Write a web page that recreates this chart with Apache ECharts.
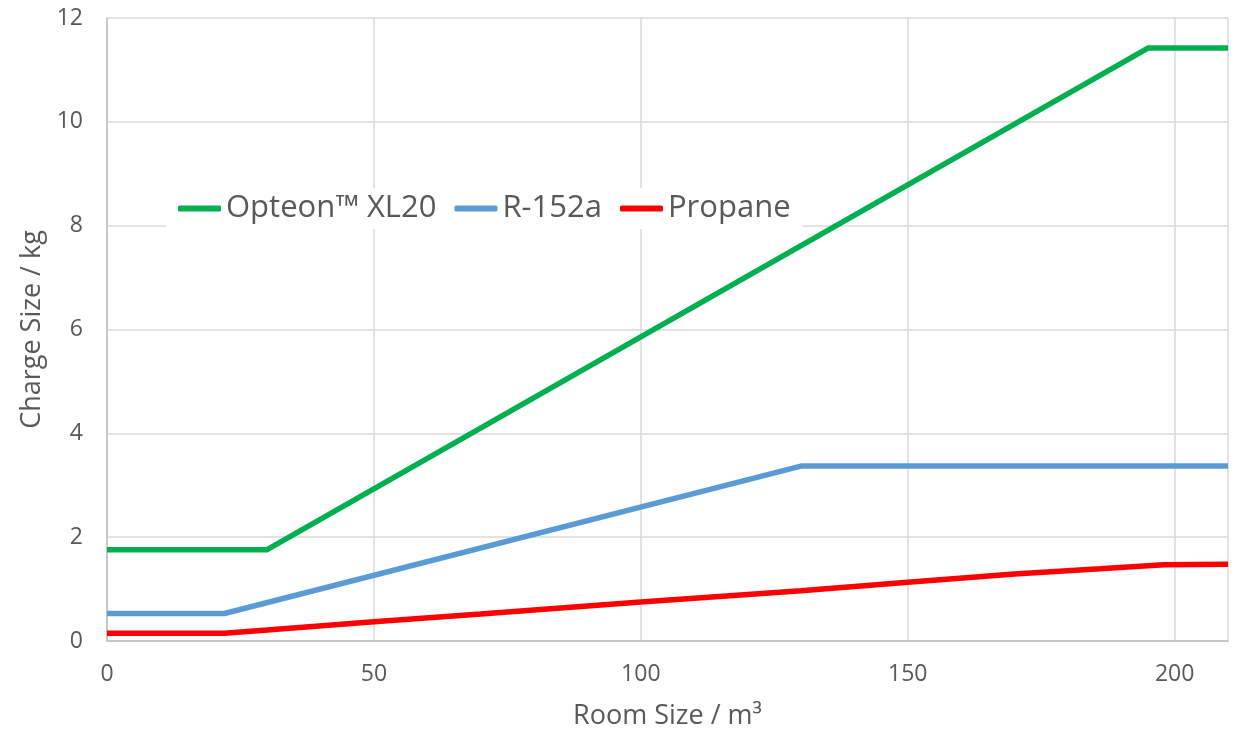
<!DOCTYPE html>
<html>
<head>
<meta charset="utf-8">
<script src="https://cdn.jsdelivr.net/npm/echarts@6/dist/echarts.min.js"></script>
<style>
html,body{margin:0;padding:0;background:#fff;}
#chart{width:1235px;height:735px;}
</style>
</head>
<body>
<div id="chart"></div>
<script>
const seriesNames = ['Opteon™ XL20', 'R-152a', 'Propane'];
const seriesColors = ['#00b050', '#5b9bd5', '#ff0000'];

const xl20Room = [0, 30, 195, 210];
const xl20Charge = [1.76, 1.76, 11.42, 11.42];

const r152aRoom = [0, 22, 130, 210];
const r152aCharge = [0.53, 0.53, 3.37, 3.37];

const propaneRoom = [0, 22, 30, 50, 70, 100, 130, 150, 170, 186, 198, 210];
const propaneCharge = [0.15, 0.15, 0.21, 0.37, 0.52, 0.75, 0.97, 1.13, 1.29, 1.39, 1.47, 1.48];

const xTicks = [0, 50, 100, 150, 200];
const yTicks = [0, 2, 4, 6, 8, 10, 12];

function pairs(xs, ys) { return xs.map((x, i) => [x, ys[i]]); }

const chart = echarts.init(document.getElementById('chart'));
const fontFam = '"Open Sans", "Liberation Sans", sans-serif';
const textColor = '#595959';

chart.setOption({
  animation: false,
  grid: { left: 107, top: 18, right: 7, bottom: 92 },
  legend: {
    data: seriesNames,
    left: 166, top: 188,
    backgroundColor: '#ffffff',
    padding: [5, 12, 5, 12],
    itemWidth: 43, itemHeight: 6,
    itemGap: 18,
    icon: 'roundRect',
    textStyle: { fontFamily: fontFam, fontSize: 31, color: textColor }
  },
  xAxis: {
    type: 'value', min: 0, max: 210, interval: 50,
    name: 'Room Size / m³', nameLocation: 'middle', nameGap: 62,
    nameTextStyle: { fontFamily: fontFam, fontSize: 27, color: textColor },
    axisLine: { show: true, lineStyle: { color: '#bfbfbf', width: 1.5 } },
    axisTick: { show: false },
    axisLabel: { fontFamily: fontFam, fontSize: 23, color: textColor, margin: 22,
      formatter: v => xTicks.includes(v) ? String(v) : '' },
    splitLine: { show: true, lineStyle: { color: '#d9d9d9', width: 1.5 } }
  },
  yAxis: {
    type: 'value', min: 0, max: 12, interval: 2,
    name: 'Charge Size / kg', nameLocation: 'middle', nameGap: 61,
    nameTextStyle: { fontFamily: fontFam, fontSize: 27, color: textColor },
    axisLine: { show: true, lineStyle: { color: '#bfbfbf', width: 1.5 } },
    axisTick: { show: false },
    axisLabel: { fontFamily: fontFam, fontSize: 23, color: textColor, margin: 24,
      formatter: v => yTicks.includes(v) ? String(v) : '' },
    splitLine: { show: true, lineStyle: { color: '#d9d9d9', width: 1.5 } }
  },
  series: [
    { name: seriesNames[0], type: 'line', data: pairs(xl20Room, xl20Charge), showSymbol: false,
      lineStyle: { color: seriesColors[0], width: 5.5 }, itemStyle: { color: seriesColors[0] } },
    { name: seriesNames[1], type: 'line', data: pairs(r152aRoom, r152aCharge), showSymbol: false,
      lineStyle: { color: seriesColors[1], width: 5.5 }, itemStyle: { color: seriesColors[1] } },
    { name: seriesNames[2], type: 'line', data: pairs(propaneRoom, propaneCharge), showSymbol: false,
      lineStyle: { color: seriesColors[2], width: 5.5 }, itemStyle: { color: seriesColors[2] } }
  ]
});
</script>
</body>
</html>
